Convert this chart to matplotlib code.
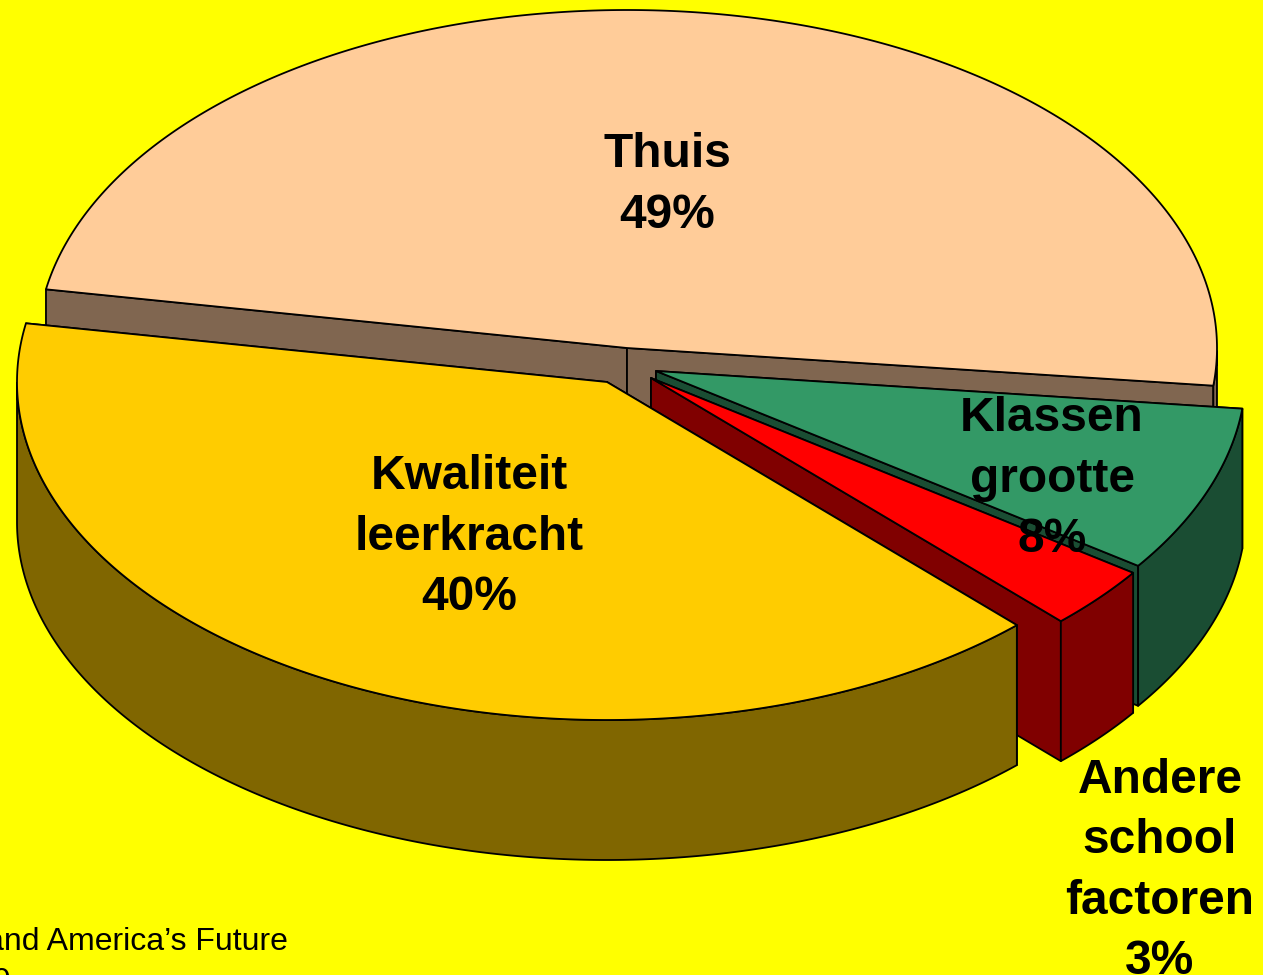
import numpy as np
import matplotlib
matplotlib.use('Agg')
import matplotlib.pyplot as plt
from matplotlib.patches import Polygon

plt.rcParams['font.family'] = ['Liberation Sans', 'DejaVu Sans']

labels = ['Thuis', 'Klassen\ngrootte', 'Andere\nschool\nfactoren', 'Kwaliteit\nleerkracht']
values = [49, 8, 3, 40]

top_colors = ['#FFCC99', '#339966', '#FF0000', '#FFCC00']
side_colors = ['#806650', '#1A4D33', '#800000', '#806600']

# slice apex in pixels, each slice is pulled out a bit differently
centers = [(627, 348), (656, 371), (651, 378), (607, 382)]
label_pos = [(667, 185), (1052, 479), (1160, 871), (469, 537)]

rx, ry = 590, 338
depth = 140
start_angle = 170  # Thuis starts here and the slices go clockwise


def rim_xy(c, t):
    return c[0] + rx*np.cos(np.radians(t)), c[1] - ry*np.sin(np.radians(t))


def draw_slice(ax, c, t0, t1, top, side):
    # t0 > t1, clockwise. back to front: cut faces, outer wall, top
    for t in (t0, t1):
        x, y = rim_xy(c, t)
        ax.add_patch(Polygon([c, (x, y), (x, y+depth), (c[0], c[1]+depth)],
                             fc=side, ec='k', lw=1.3, joinstyle='round'))
    ts = np.linspace(t0, t1, 300)
    front = ts[np.sin(np.radians(ts)) <= 0]
    if len(front) > 1:
        x, y = rim_xy(c, front)
        pts = np.vstack([np.c_[x, y], np.c_[x, y+depth][::-1]])
        ax.add_patch(Polygon(pts, fc=side, ec='k', lw=1.3, joinstyle='round'))
    x, y = rim_xy(c, ts)
    pts = np.vstack([[c], np.c_[x, y]])
    ax.add_patch(Polygon(pts, fc=top, ec='k', lw=1.3, joinstyle='round'))


fig = plt.figure(figsize=(12.63, 9.75), dpi=100, facecolor='#FFFF00')
ax = fig.add_axes([0, 0, 1, 1])
ax.set_xlim(0, 1263)
ax.set_ylim(975, 0)
ax.axis('off')

angle = start_angle
for i, v in enumerate(values):
    span = v/sum(values)*360
    draw_slice(ax, centers[i], angle, angle-span, top_colors[i], side_colors[i])
    angle -= span

for i, v in enumerate(values):
    ax.text(label_pos[i][0], label_pos[i][1], f'{labels[i]}\n{v}%', ha='center', va='center',
            fontsize=34.5, fontweight='bold', color='k', linespacing=1.44, clip_on=False)

ax.text(288, 942, 'and America’s Future', ha='right', va='center', fontsize=23, color='k')
ax.text(10, 982, '9', ha='right', va='center', fontsize=23, color='k')

fig.savefig('out.png', dpi=100, facecolor=fig.get_facecolor())
